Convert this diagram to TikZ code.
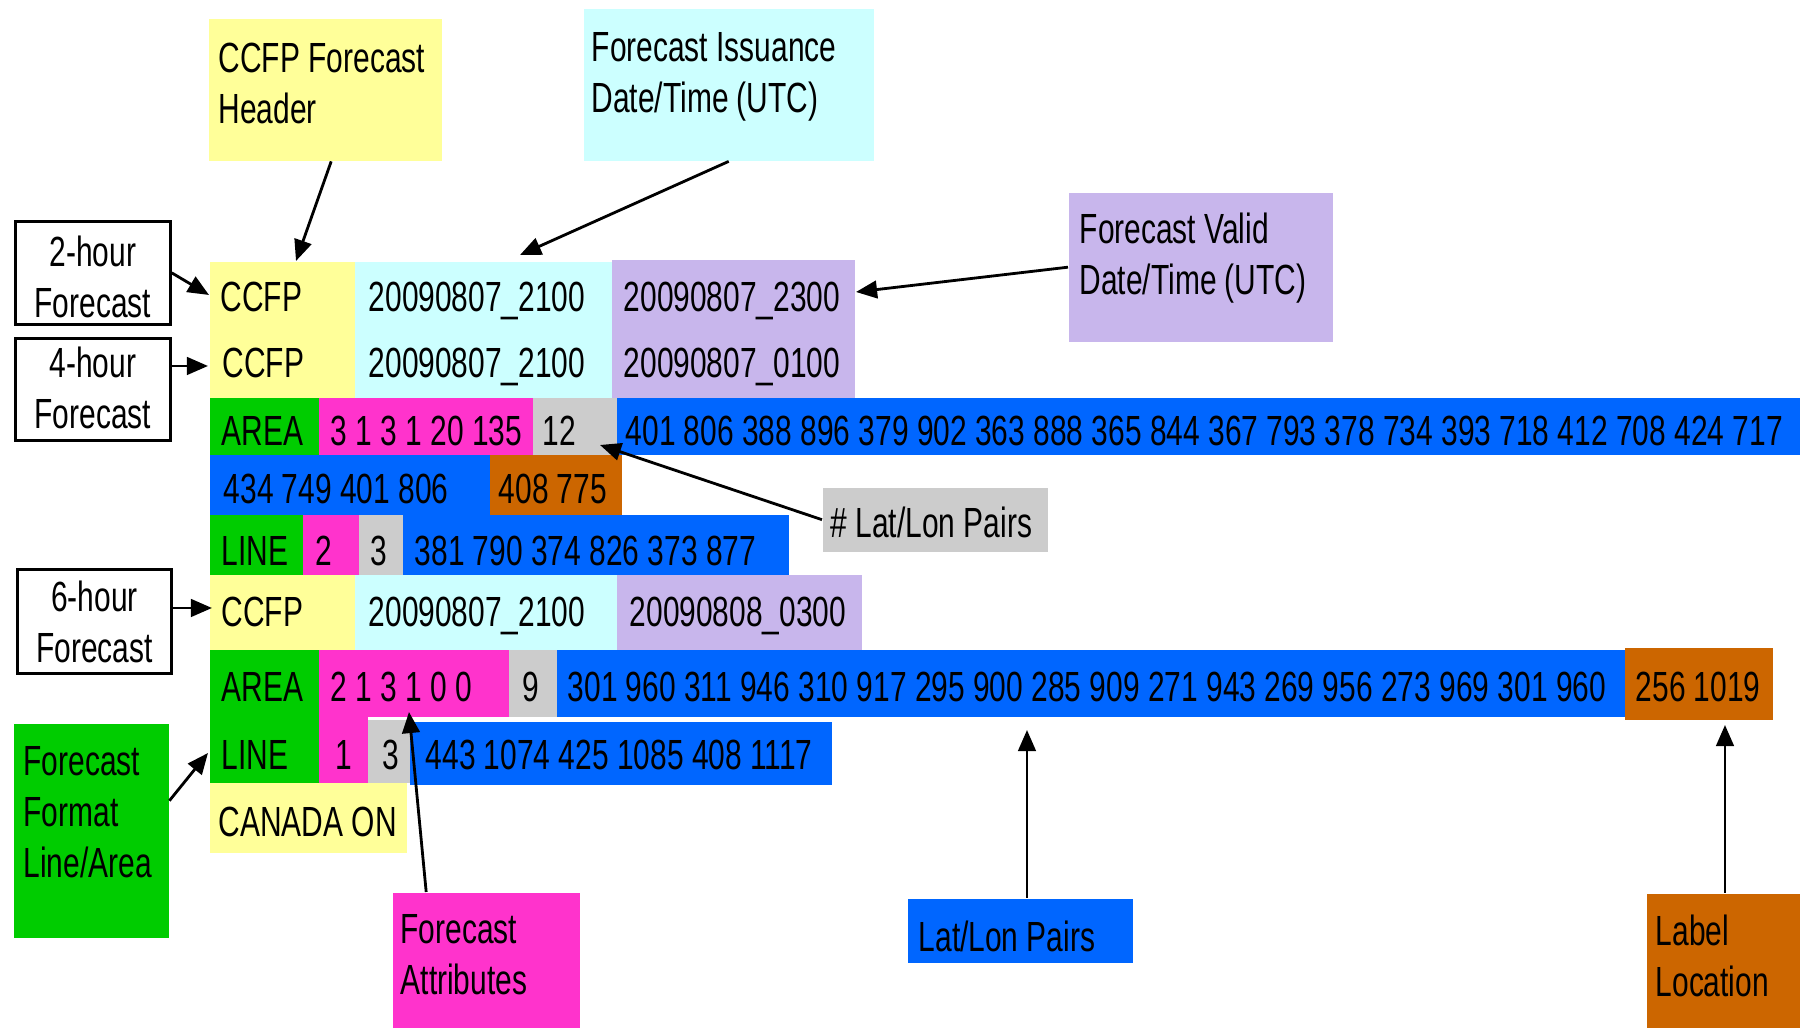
\documentclass[tikz,border=0pt]{standalone}
\usepackage{fontspec}
\setmainfont[FakeStretch=0.71]{Liberation Sans}
\usepackage{tikz}
\usetikzlibrary{arrows.meta}

\definecolor{hdryellow}{RGB}{255,255,153}
\definecolor{isscyan}{RGB}{204,255,255}
\definecolor{validpurple}{RGB}{200,182,236}
\definecolor{fmtgreen}{RGB}{0,204,0}
\definecolor{attrpink}{RGB}{255,51,204}
\definecolor{pairgray}{RGB}{204,204,204}
\definecolor{pairblue}{RGB}{0,102,255}
\definecolor{laborange}{RGB}{204,102,0}

\begin{document}
\begin{tikzpicture}[
    font=\fontsize{12}{14.5}\selectfont,
    txt/.style={anchor=base west, inner sep=0pt},
    callout/.style={fill=#1, anchor=north west, inner ysep=0pt, align=flush left},
    fcbox/.style={draw, line width=0.8pt, anchor=north west, inner sep=0pt, align=flush center},
    arr/.style={-{Triangle[length=6pt, width=5pt]}, line width=0.8pt}
]
    \useasboundingbox (0,0) rectangle (18,10.28);

    % 2-hour and 4-hour headers
    \fill[hdryellow] (2.10,7.66) rectangle (3.55,6.30);
    \fill[isscyan] (3.55,7.66) rectangle (6.12,6.30);
    \fill[validpurple] (6.12,7.68) rectangle (8.55,6.30);
    \node[txt] (c1) at (2.20,7.16) {CCFP};
    \node[txt] (i1) at (3.68,7.16) {20090807\_2100};
    \node[txt] (v1) at (6.23,7.16) {20090807\_2300};
    \node[txt] (c2) at (2.22,6.50) {CCFP};
    \node[txt] (i2) at (3.68,6.50) {20090807\_2100};
    \node[txt] (v2) at (6.23,6.50) {20090807\_0100};

    % 4-hour area
    \fill[fmtgreen] (2.10,6.30) rectangle (3.19,5.73);
    \fill[attrpink] (3.19,6.30) rectangle (5.33,5.73);
    \fill[pairgray] (5.33,6.30) rectangle (6.17,5.73);
    \fill[pairblue] (6.17,6.30) rectangle (18,5.73);
    \fill[pairblue] (2.10,5.73) rectangle (4.90,5.13);
    \fill[laborange] (4.90,5.73) rectangle (6.22,5.13);
    \node[txt] (a1) at (2.21,5.82) {AREA};
    \node[txt] (a1attr) at (3.30,5.82) {3 1 3 1 20 135};
    \node[txt] (a1n) at (5.42,5.82) {12};
    \node[txt] (a1pts) at (6.25,5.82) {401 806 388 896 379 902 363 888 365 844 367 793 378 734 393 718 412 708 424 717};
    \node[txt] (a1more) at (2.23,5.24) {434 749 401 806};
    \node[txt] (a1lab) at (4.98,5.24) {408 775};

    % 4-hour line
    \fill[fmtgreen] (2.10,5.13) rectangle (3.03,4.53);
    \fill[attrpink] (3.03,5.13) rectangle (3.59,4.53);
    \fill[pairgray] (3.59,5.13) rectangle (4.03,4.53);
    \fill[pairblue] (4.03,5.13) rectangle (7.89,4.53);
    \node[txt] (l1) at (2.21,4.62) {LINE};
    \node[txt] (l1attr) at (3.15,4.62) {2};
    \node[txt] (l1n) at (3.70,4.62) {3};
    \node[txt] (l1pts) at (4.14,4.62) {381 790 374 826 373 877};

    % 6-hour header
    \fill[hdryellow] (2.10,4.53) rectangle (3.55,3.78);
    \fill[isscyan] (3.55,4.53) rectangle (6.17,3.78);
    \fill[validpurple] (6.17,4.53) rectangle (8.62,3.78);
    \node[txt] (c3) at (2.21,4.01) {CCFP};
    \node[txt] (i3) at (3.68,4.01) {20090807\_2100};
    \node[txt] (v3) at (6.29,4.01) {20090808\_0300};

    % 6-hour area and line
    \fill[fmtgreen] (2.10,3.78) rectangle (3.19,2.45);
    \fill[attrpink] (3.19,3.78) rectangle (5.09,3.11);
    \fill[attrpink] (3.19,3.11) rectangle (3.68,2.45);
    \fill[pairgray] (5.09,3.78) rectangle (5.57,3.11);
    \fill[pairblue] (5.57,3.78) rectangle (16.25,3.11);
    \fill[laborange] (16.25,3.80) rectangle (17.73,3.08);
    \fill[pairgray] (3.68,3.08) rectangle (4.10,2.45);
    \fill[pairblue] (4.10,3.06) rectangle (8.32,2.43);
    \fill[hdryellow] (2.10,2.45) rectangle (4.07,1.75);
    \node[txt] (a2) at (2.21,3.26) {AREA};
    \node[txt] (a2attr) at (3.30,3.26) {2 1 3 1 0 0};
    \node[txt] (a2n) at (5.22,3.26) {9};
    \node[txt] (a2pts) at (5.67,3.26) {301 960 311 946 310 917 295 900 285 909 271 943 269 956 273 969 301 960};
    \node[txt] (a2lab) at (16.35,3.26) {256 1019};
    \node[txt] (l2) at (2.21,2.58) {LINE};
    \node[txt] (l2attr) at (3.35,2.58) {1};
    \node[txt] (l2n) at (3.82,2.58) {3};
    \node[txt] (l2pts) at (4.25,2.58) {443 1074 425 1085 408 1117};
    \node[txt] (loc) at (2.18,1.91) {CANADA ON};

    % Forecast boxes
    \node[fcbox, text width=1.55cm, text height=0.45cm, text depth=0.58cm] (h2) at (0.14,8.08) {2-hour\\Forecast};
    \node[fcbox, text width=1.55cm, text height=0.39cm, text depth=0.63cm] (h4) at (0.14,6.91) {4-hour\\Forecast};
    \node[fcbox, text width=1.54cm, text height=0.42cm, text depth=0.62cm] (h6) at (0.16,4.60) {6-hour\\Forecast};

    % Callouts
    \node[callout=hdryellow, inner xsep=0.10cm, text width=2.13cm, text height=0.54cm, text depth=0.88cm] (hdr) at (2.08,10.10) {CCFP Forecast\\Header};
    \node[callout=isscyan, inner xsep=0.08cm, text width=2.74cm, text height=0.53cm, text depth=0.99cm] (iss) at (5.83,10.20) {Forecast Issuance\\Date/Time (UTC)};
    \node[callout=validpurple, inner xsep=0.11cm, text width=2.42cm, text height=0.51cm, text depth=0.98cm] (valid) at (10.68,8.36) {Forecast Valid\\Date/Time (UTC)};
    \node[callout=pairgray, inner xsep=0.08cm, text width=2.09cm, text height=0.50cm, text depth=0.14cm] (npairs) at (8.22,5.41) {\# Lat/Lon Pairs};
    \node[callout=fmtgreen, inner xsep=0.10cm, text width=1.35cm, text height=0.52cm, text depth=1.62cm] (fmt) at (0.13,3.05) {Forecast\\Format\\Line/Area};
    \node[callout=attrpink, inner xsep=0.08cm, text width=1.71cm, text height=0.51cm, text depth=0.85cm] (attr) at (3.92,1.36) {Forecast\\Attributes};
    \node[callout=pairblue, inner xsep=0.11cm, text width=2.03cm, text height=0.53cm, text depth=0.11cm] (ll) at (9.07,1.30) {Lat/Lon Pairs};
    \node[callout=laborange, inner xsep=0.09cm, text width=1.36cm, text height=0.52cm, text depth=0.83cm] (lab) at (16.46,1.35) {Label\\Location};

    % Arrow targets
    \coordinate (hdrtip) at (2.96,7.67);
    \coordinate (isstip) at (5.20,7.73);
    \coordinate (validtip) at (8.56,7.36);
    \coordinate (h2tip) at (2.09,7.33);
    \coordinate (h4tip) at (2.08,6.62);
    \coordinate (h6tip) at (2.12,4.20);
    \coordinate (fmttip) at (2.08,2.75);
    \coordinate (attrtip) at (4.09,3.16);
    \coordinate (lltip) at (10.27,2.98);
    \coordinate (labtip) at (17.25,3.03);
    \coordinate (npairtip) at (6.00,5.83);

    % Arrows
    \draw[arr] ([xshift=0.06cm]hdr.south) -- (hdrtip);
    \draw[arr] (iss.south) -- (isstip);
    \draw[arr] (valid.west) -- (validtip);
    \draw[arr] (h2.east) -- (h2tip);
    \draw[arr] (h4.east |- h4tip) -- (h4tip);
    \draw[arr] (h6.east |- h6tip) -- (h6tip);
    \draw[arr] ([yshift=0.30cm]fmt.east) -- (fmttip);
    \draw[arr] ([xshift=-0.60cm]attr.north) -- (attrtip);
    \draw[arr] (npairs.west) -- (npairtip);
    \draw[arr] (ll.north -| lltip) -- (lltip);
    \draw[arr] (lab.north -| labtip) -- (labtip);
\end{tikzpicture}
\end{document}
